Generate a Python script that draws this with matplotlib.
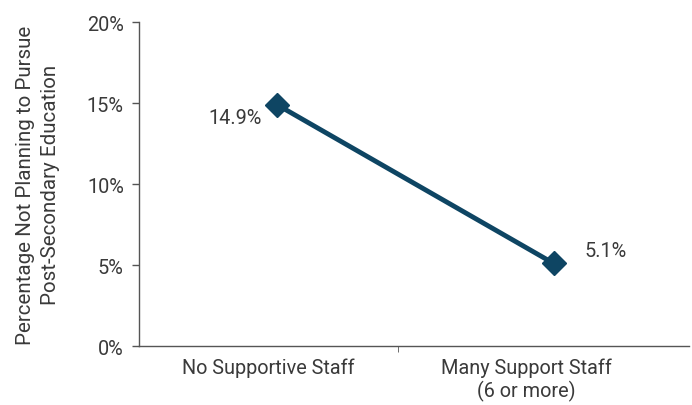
import matplotlib.pyplot as plt
import matplotlib.ticker as ticker

plt.rcParams['font.family'] = ['Roboto', 'DejaVu Sans']

# data
categories = ['No Supportive Staff', 'Many Support Staff\n(6 or more)']
values = [14.9, 5.1]
value_labels = ['14.9%', '5.1%']

line_color = '#0e4563'
text_color = '#3a3a3a'
fs = 14.3

fig = plt.figure(figsize=(6.92, 4.06), dpi=100)
ax = fig.add_axes([0.201, 0.1453, 0.795, 0.798])

x = list(range(len(values)))
ax.plot(x, values, color=line_color, lw=3.5, marker='D', ms=12,
        solid_capstyle='butt', zorder=3)

# value labels
ax.annotate(value_labels[0], (x[0], values[0]), xytext=(-11, -9),
            textcoords='offset points', ha='right', va='center',
            fontsize=fs, color=text_color)
ax.annotate(value_labels[1], (x[1], values[1]), xytext=(22, 9),
            textcoords='offset points', ha='left', va='center',
            fontsize=fs, color=text_color)

# axes formatting
ax.set_ylim(0, 20)
ax.set_xlim(-0.498, 1.49)
ax.yaxis.set_major_locator(ticker.MultipleLocator(5))
ax.yaxis.set_major_formatter(ticker.FuncFormatter(lambda v, p: '{:.0f}%'.format(v)))

ax.set_xticks([-0.03, 0.9])
ax.set_xticklabels(categories)
ax.set_xticks([0.437], minor=True)
ax.tick_params(axis='x', which='major', length=0, pad=8, labelsize=fs, colors=text_color)
ax.tick_params(axis='x', which='minor', length=4, direction='out', color='#555555')
ax.tick_params(axis='y', length=5, width=1, direction='out', color='#555555',
               labelsize=fs, colors=text_color, pad=6)

for s in ['top', 'right']:
    ax.spines[s].set_visible(False)
for s in ['left', 'bottom']:
    ax.spines[s].set_color('#555555')
    ax.spines[s].set_linewidth(1)

ax.set_ylabel('Percentage Not Planning to Pursue\nPost-Secondary Education',
              fontsize=14.8, color=text_color, labelpad=19, linespacing=1.45)

plt.savefig('out.png', dpi=100)
